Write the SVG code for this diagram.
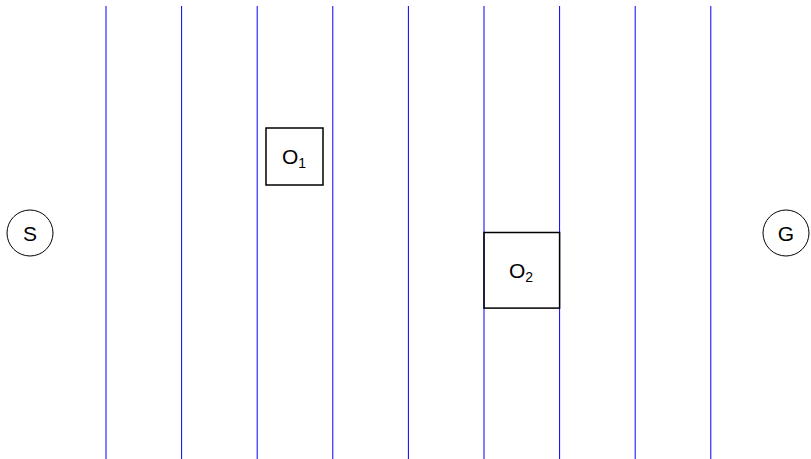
<svg xmlns="http://www.w3.org/2000/svg" width="811" height="459" viewBox="0 0 811 459">
<style>
.grid line{stroke:#0000ff;stroke-width:1}
.node circle{fill:#fff;stroke:#000;stroke-width:1}
.obs rect{fill:none;stroke:#000;stroke-width:1.5}
text{font-family:"Liberation Sans",Arial,sans-serif;font-size:21px;fill:#000}
.sub{font-size:14px}
</style>
<rect width="811" height="459" fill="#fff"/>
<g id="connectors" class="grid">
<line x1="106" y1="6" x2="106" y2="459"/>
<line x1="181.6" y1="6" x2="181.6" y2="459"/>
<line x1="257.2" y1="6" x2="257.2" y2="459"/>
<line x1="332.8" y1="6" x2="332.8" y2="459"/>
<line x1="408.4" y1="6" x2="408.4" y2="459"/>
<line x1="484" y1="6" x2="484" y2="459"/>
<line x1="559.6" y1="6" x2="559.6" y2="459"/>
<line x1="635.2" y1="6" x2="635.2" y2="459"/>
<line x1="710.8" y1="6" x2="710.8" y2="459"/>
</g>
<g id="S" class="node">
<circle cx="30" cy="233" r="23"/>
<text x="30" y="240.5" text-anchor="middle">S</text>
</g>
<g id="G" class="node">
<circle cx="786" cy="233" r="23"/>
<text x="786" y="240.5" text-anchor="middle">G</text>
</g>
<g id="O1" class="obs">
<rect x="266" y="128" width="57" height="57"/>
<text x="294" y="164" text-anchor="middle">O<tspan class="sub" dy="4">1</tspan></text>
</g>
<g id="O2" class="obs">
<rect x="484" y="232.5" width="75.6" height="75.6"/>
<text x="521" y="278" text-anchor="middle">O<tspan class="sub" dy="4">2</tspan></text>
</g>
</svg>
